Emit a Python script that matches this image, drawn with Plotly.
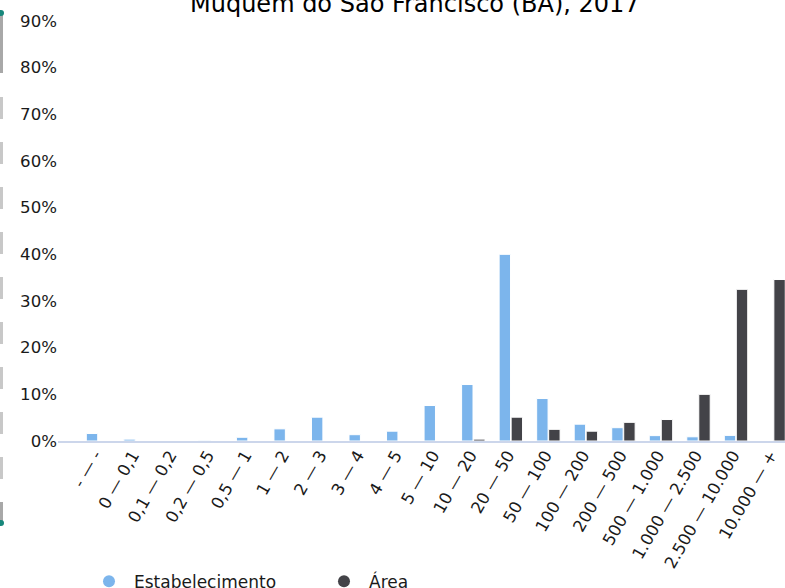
import plotly.graph_objects as go

categories = ["- — -", "0 — 0,1", "0,1 — 0,2", "0,2 — 0,5", "0,5 — 1", "1 — 2", "2 — 3",
              "3 — 4", "4 — 5", "5 — 10", "10 — 20", "20 — 50", "50 — 100", "100 — 200",
              "200 — 500", "500 — 1.000", "1.000 — 2.500", "2.500 — 10.000", "10.000 — +"]
estabelecimento = [1.6, 0.4, 0.0, 0.15, 0.8, 2.6, 5.1, 1.35, 2.1, 7.6, 12.1, 40.0, 9.1, 3.6,
                   2.85, 1.15, 0.9, 1.2, 0.0]
area = [0.0, 0.0, 0.0, 0.0, 0.0, 0.0, 0.0, 0.0, 0.0, 0.0, 0.4, 5.1, 2.5, 2.1,
        4.0, 4.6, 10.0, 32.5, 34.6]
y_ticks = [0, 10, 20, 30, 40, 50, 60, 70, 80, 90]
title_text = "Muquém do São Francisco (BA), 2017"

BLUE = "#7cb5ec"
DARK = "#434348"
FONT = "DejaVu Sans"

fig = go.Figure()
fig.add_trace(go.Bar(x=categories, y=estabelecimento, name="Estabelecimento",
                     marker=dict(color=BLUE, line=dict(color="white", width=1)),
                     showlegend=False))
fig.add_trace(go.Bar(x=categories, y=area, name="Área",
                     marker=dict(color=DARK, line=dict(color="white", width=1)),
                     showlegend=False))
# legend entries with round symbols
fig.add_trace(go.Scatter(x=[None], y=[None], mode="markers", name="Estabelecimento",
                         marker=dict(color=BLUE, size=12, symbol="circle")))
fig.add_trace(go.Scatter(x=[None], y=[None], mode="markers", name="Área",
                         marker=dict(color=DARK, size=12, symbol="circle")))

# decorative left-edge scroller
shapes = []
def px_rect(y_top, y_bot, color):
    return dict(type="rect", xref="paper", yref="paper", xsizemode="pixel", ysizemode="pixel",
                xanchor=0, yanchor=0, x0=-58, x1=-55, y0=441 - y_bot, y1=441 - y_top,
                fillcolor=color, line=dict(width=0), layer="above")
shapes.append(px_rect(13, 73, "#a8a8a8"))
for k in range(9):
    top = 97 + 45 * k
    shapes.append(px_rect(top, top + 22, "#c8c8c8"))
shapes.append(px_rect(502, 523, "#a8a8a8"))
for yc in (13, 523):
    shapes.append(dict(type="circle", xref="paper", yref="paper", xsizemode="pixel",
                       ysizemode="pixel", xanchor=0, yanchor=0, x0=-60, x1=-54,
                       y0=441 - yc - 3, y1=441 - yc + 3, fillcolor="#17877b",
                       line=dict(width=0), layer="above"))

fig.update_layout(
    width=785, height=588,
    margin=dict(l=58, r=0, t=21, b=147, autoexpand=False),
    paper_bgcolor="white", plot_bgcolor="white",
    font=dict(family=FONT, size=16.6, color="#1a1a1a"),
    annotations=[dict(text=title_text, xref="paper", x=(415 - 58) / 727, xanchor="center",
                      yref="paper", y=1.04, yanchor="middle", showarrow=False,
                      font=dict(family=FONT, size=24, color="#000"))],
    barmode="group", bargap=0.36, bargroupgap=0.05,
    xaxis=dict(type="category", range=[-1.066, 18.305], showline=True, linecolor="#ccd6eb",
               linewidth=2, showgrid=False, ticks="", tickangle=-60, automargin=False,
               ticklabelstandoff=-4, ticklabelshift=-3,
               tickfont=dict(family=FONT, size=16.6, color="#1a1a1a")),
    yaxis=dict(range=[0, 90], tickvals=y_ticks, ticktext=[f"{v}%" for v in y_ticks],
               showgrid=False, zeroline=False, showline=False, ticks="", automargin=False,
               tickfont=dict(family=FONT, size=16.6, color="#1a1a1a")),
    legend=dict(orientation="h", xref="container", yref="container", x=84 / 785,
                xanchor="left", y=1 - 581.7 / 588, yanchor="middle", itemwidth=40,
                entrywidth=180, font=dict(family=FONT, size=17, color="#1a1a1a"),
                bgcolor="rgba(0,0,0,0)"),
    shapes=shapes,
)

fig.write_html("out.html", config={"displayModeBar": False},
               post_script="document.body.style.margin='0';document.body.style.overflow='hidden';")
